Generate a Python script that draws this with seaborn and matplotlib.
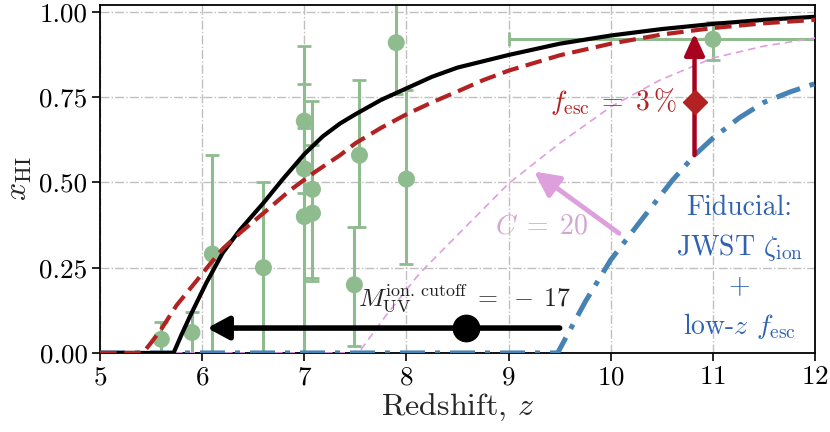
import numpy as np
import pandas as pd
import matplotlib
matplotlib.use("Agg")
import matplotlib.pyplot as plt
from matplotlib.ticker import FormatStrFormatter
import seaborn as sns

# ---------------- data ----------------
# fiducial + M_UV cutoff = -17 (black solid)
z_cut = [5.0, 5.72, 5.8, 5.88, 6.04, 6.2, 6.37, 6.6, 6.79, 7.0, 7.18, 7.35, 7.5, 7.75,
         8.0, 8.25, 8.5, 9.0, 9.5, 10.0, 10.5, 11.0, 11.5, 12.0]
x_cut = [0.0, 0.0, 0.055, 0.107, 0.205, 0.293, 0.361, 0.44, 0.51, 0.583, 0.635, 0.673,
         0.70, 0.742, 0.776, 0.81, 0.837, 0.874, 0.907, 0.931, 0.950, 0.965, 0.977, 0.986]

# f_esc = 3 % (red dashed)
z_fesc = [5.0, 5.42, 5.5, 5.6, 5.75, 5.9, 6.08, 6.2, 6.37, 6.6, 6.86, 7.1, 7.35, 7.5,
          7.75, 8.0, 8.25, 8.5, 8.75, 9.0, 9.5, 10.0, 10.5, 11.0, 11.5, 12.0]
x_fesc = [0.0, 0.0, 0.03, 0.07, 0.14, 0.195, 0.262, 0.305, 0.352, 0.41, 0.477, 0.53,
          0.58, 0.615, 0.66, 0.70, 0.735, 0.767, 0.80, 0.828, 0.873, 0.907, 0.934,
          0.953, 0.967, 0.977]

# clumping C = 20 (thin pink dashed)
z_clump = [5.0, 7.53, 7.8, 8.13, 8.58, 9.0, 9.5, 10.0, 10.48, 10.8, 11.0, 11.5, 12.0]
x_clump = [0.0, 0.0, 0.11, 0.234, 0.37, 0.497, 0.615, 0.722, 0.80, 0.84, 0.865, 0.90, 0.924]

# fiducial JWST zeta_ion + low-z f_esc (blue dash-dot)
z_fid = [5.0, 9.48, 9.75, 10.0, 10.3, 10.6, 10.82, 11.0, 11.26, 11.5, 11.75, 12.0]
x_fid = [0.0, 0.0, 0.15, 0.273, 0.39, 0.505, 0.58, 0.63, 0.69, 0.735, 0.765, 0.79]

# observational constraints
z_obs = [5.6, 5.9, 6.1, 6.6, 7.0, 7.0, 7.0, 7.08, 7.08, 7.49, 7.54, 7.9, 8.0, 11.0]
x_obs = [0.04, 0.06, 0.29, 0.25, 0.68, 0.54, 0.40, 0.48, 0.41, 0.20, 0.58, 0.91, 0.51, 0.92]
x_lo = [0.00, 0.00, 0.00, 0.00, 0.47, 0.00, 0.00, 0.21, 0.22, 0.02, 0.37, 0.76, 0.26, 0.86]
x_hi = [0.09, 0.12, 0.58, 0.50, 0.90, 0.66, 0.79, 0.74, 0.61, 0.37, 0.80, 1.10, 0.77, 0.97]
z_lo = [5.6, 5.9, 6.1, 6.6, 7.0, 7.0, 7.0, 7.08, 7.08, 7.49, 7.54, 7.9, 8.0, 9.0]
z_hi = [5.6, 5.9, 6.1, 6.6, 7.0, 7.0, 7.0, 7.08, 7.08, 7.49, 7.54, 7.9, 8.0, 13.0]

# annotation anchors
cut_arrow_z = [9.5, 6.05]
cut_arrow_x = 0.073
cut_marker_z = 8.58
fesc_marker = (10.82, 0.737)
fesc_arrow = (10.82, 0.58, 0.937)
clump_arrow = [(10.08, 0.351), (9.25, 0.532)]

# ---------------- style ----------------
sns.set_theme(style="ticks")
plt.rcParams.update({
    "font.family": "serif",
    "font.serif": ["cmr10", "DejaVu Serif"],
    "mathtext.fontset": "cm",
    "axes.formatter.use_mathtext": True,
    "axes.unicode_minus": False,
})

fig, ax = plt.subplots(figsize=(8.3, 4.32), dpi=100)
fig.subplots_adjust(left=0.1205, right=0.982, top=0.988, bottom=0.183)

ax.grid(True, color="#c0c0c0", linestyle="-.", linewidth=1.0, zorder=0)
ax.set_axisbelow(True)

green = "#8fbc8f"
obs = pd.DataFrame({"z": z_obs, "x": x_obs})
yerr = np.array([np.array(x_obs) - np.array(x_lo), np.array(x_hi) - np.array(x_obs)])
xerr = np.array([np.array(z_obs) - np.array(z_lo), np.array(z_hi) - np.array(z_obs)])
ax.errorbar(obs["z"], obs["x"], yerr=yerr, xerr=xerr, fmt="none", ecolor=green,
            elinewidth=2.2, capsize=5, capthick=2.0, zorder=2)
sns.scatterplot(data=obs, x="z", y="x", color=green, s=150, edgecolor="none",
                ax=ax, zorder=2.5)

sns.lineplot(x=z_clump, y=x_clump, ax=ax, color="plum", lw=1.2,
             linestyle=(0, (4.5, 3)), zorder=3)
sns.lineplot(x=z_fid, y=x_fid, ax=ax, color="steelblue", lw=3.6,
             linestyle=(0, (5, 2, 1, 2)), zorder=3.2)
sns.lineplot(x=z_cut, y=x_cut, ax=ax, color="black", lw=3.0, zorder=3.4)
sns.lineplot(x=z_fesc, y=x_fesc, ax=ax, color="firebrick", lw=3.0,
             linestyle=(0, (4, 1.8)), zorder=3.6)

# M_UV cutoff arrow + marker
ax.annotate("", xy=(cut_arrow_z[1], cut_arrow_x), xytext=(cut_arrow_z[0], cut_arrow_x),
            arrowprops=dict(arrowstyle="-|>,head_length=0.65,head_width=0.35",
                            lw=4, color="black", shrinkA=0, shrinkB=0,
                            mutation_scale=20), zorder=5)
ax.plot([cut_marker_z], [cut_arrow_x], "o", color="black", ms=19, zorder=6)
ax.text(8.57, 0.138, r"$M_{\rm UV}^{\rm ion.\,cutoff}\;=\;-\;17$", ha="center",
        va="baseline", fontsize=18.5, color="#222222", zorder=6)

# f_esc arrow + marker
ax.annotate("", xy=(fesc_arrow[0], fesc_arrow[2]), xytext=(fesc_arrow[0], fesc_arrow[1]),
            arrowprops=dict(arrowstyle="-|>,head_length=0.65,head_width=0.3",
                            lw=3.2, color="#a8001f", shrinkA=0, shrinkB=0,
                            mutation_scale=20), zorder=5)
ax.plot([fesc_marker[0]], [fesc_marker[1]], "D", color="firebrick", ms=12, zorder=6)
ax.text(10.02, 0.737, r"$f_{\rm esc}\;=\;3\,\%$", ha="center", va="center",
        fontsize=20, color="firebrick", zorder=6)

# clumping arrow
ax.annotate("", xy=clump_arrow[1], xytext=clump_arrow[0],
            arrowprops=dict(arrowstyle="-|>,head_length=0.75,head_width=0.38",
                            lw=3.5, color="plum", shrinkA=0, shrinkB=0,
                            mutation_scale=20), zorder=5)
ax.text(9.32, 0.37, r"$C\;=\;20$", ha="center", va="center", fontsize=20,
        color="#d2a6d2", zorder=6)

ax.text(11.26, 0.25, "Fiducial:\nJWST $\\zeta_{\\rm ion}$\n+\nlow-$z$ $f_{\\rm esc}$",
        ha="center", va="center", fontsize=20, color="#3062b2", linespacing=1.5,
        zorder=6)

ax.set_xlim(5, 12)
ax.set_ylim(0, 1.02)
ax.set_xticks([5, 6, 7, 8, 9, 10, 11, 12])
ax.set_yticks([0.0, 0.25, 0.5, 0.75, 1.0])
ax.yaxis.set_major_formatter(FormatStrFormatter("%.2f"))
ax.set_xlabel(r"Redshift, $z$", fontsize=23, labelpad=2)
ax.set_ylabel(r"$x_{\rm HI}$", fontsize=23, labelpad=4)
ax.tick_params(direction="out", length=5.5, width=1.2, labelsize=19.5, colors="black")
for s in ax.spines.values():
    s.set_linewidth(1.3)
    s.set_color("black")
    s.set_visible(True)

fig.savefig("out.png", dpi=100)
